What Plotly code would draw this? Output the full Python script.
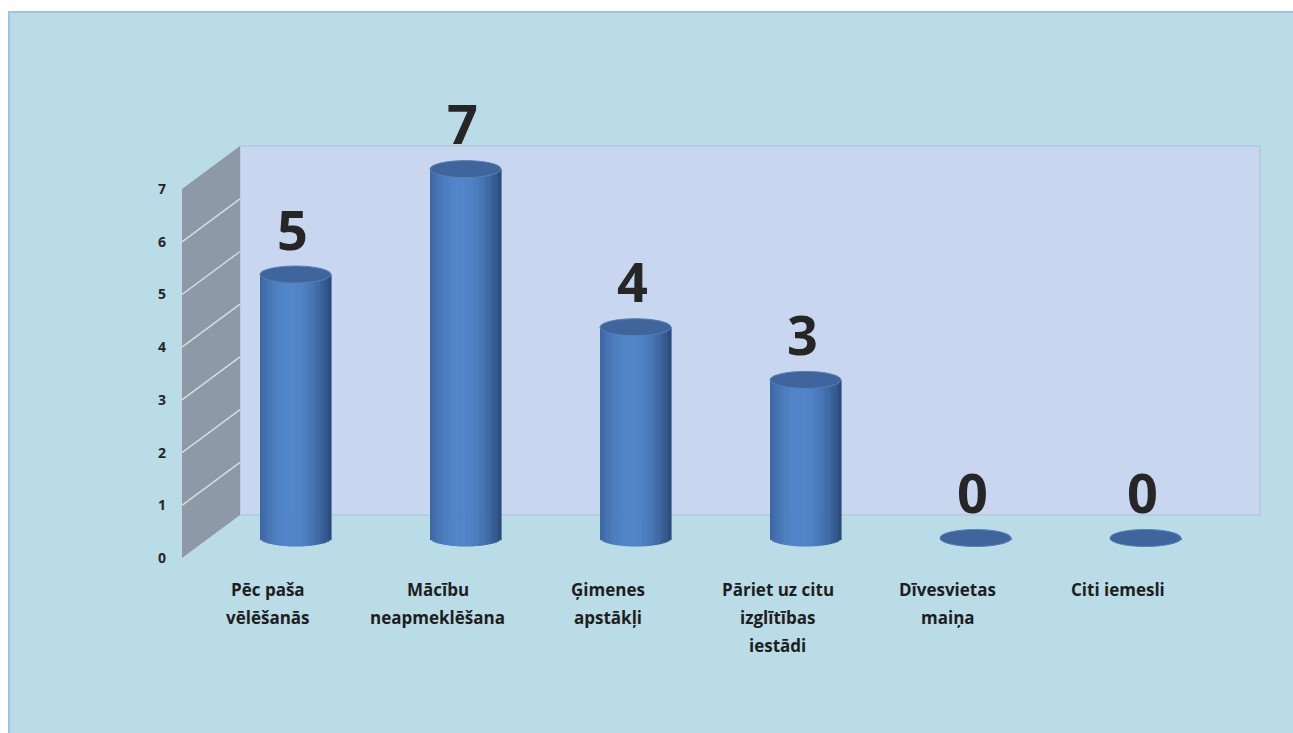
import math
import plotly.graph_objects as go

# ---- data -------------------------------------------------------------
categories = [
    ["Pēc paša", "vēlēšanās"],
    ["Mācību", "neapmeklēšana"],
    ["Ģimenes", "apstākļi"],
    ["Pāriet uz citu", "izglītības", "iestādi"],
    ["Dīvesvietas", "maiņa"],
    ["Citi iemesli"],
]
values = [5, 7, 4, 3, 0, 0]
y_ticks = [0, 1, 2, 3, 4, 5, 6, 7]

# ---- geometry of the pseudo-3D scene (pixels) ------------------------
W, H = 1293, 733
PX_X = 170.0          # pixels per category step
CAT0_PX = 295.5       # pixel x of the first category
PX_Y = 52.7           # pixels per value unit
ZERO_PX = 538.0       # pixel y of value 0 on the cylinder plane
FRONT_DY = 20         # front plane offset (down) from cylinder plane
BACK_DY = -23         # back plane offset (up) from cylinder plane
WALL_FRONT_X, WALL_BACK_X, BACK_RIGHT_X = 182, 240, 1260
RX, RY = 35.5, 8.5    # cylinder ellipse radii
N_STRIPS = 30

x_lo = -CAT0_PX / PX_X
x_hi = x_lo + W / PX_X
y_hi = ZERO_PX / PX_Y
y_lo = y_hi - H / PX_Y
y_max = max(y_ticks)


def px(p):
    return p / W


def py(p):
    return 1 - p / H


def plane_y(v, dy):
    return ZERO_PX + dy - v * PX_Y


xs = list(range(len(values)))

fig = go.Figure()

# cylinder bodies: vertical shaded strips, bottom rounded into a half ellipse
dark = (40, 72, 120)
light = (82, 134, 202)
strip_w = 2 * RX / N_STRIPS
for k in range(N_STRIPS):
    u = -1 + (k + 0.5) * 2 / N_STRIPS
    t = max(0.0, math.cos(math.pi / 2 * (u + 0.15) / 1.15)) ** 0.8
    rgb = tuple(int(d + (l - d) * t) for d, l in zip(dark, light))
    drop = RY * math.sqrt(max(0.0, 1 - u * u)) / PX_Y
    fig.add_trace(go.Bar(
        x=xs,
        y=[v + drop for v in values],
        base=-drop,
        width=(strip_w + 0.6) / PX_X,
        offset=(-RX + k * strip_w) / PX_X,
        marker=dict(color="rgb(%d,%d,%d)" % rgb, line=dict(width=0)),
        showlegend=False,
        hoverinfo="skip",
    ))

shapes = []
# chart area
shapes.append(dict(type="rect", xref="paper", yref="paper",
                   x0=px(9), x1=px(W + 5), y0=py(H + 5), y1=py(12),
                   fillcolor="#B9DCE6", line=dict(color="#9DC3E6", width=2),
                   layer="below"))
# back wall
shapes.append(dict(type="rect", xref="paper", yref="paper",
                   x0=px(WALL_BACK_X), x1=px(BACK_RIGHT_X),
                   y0=py(plane_y(0, BACK_DY)), y1=py(plane_y(y_max, BACK_DY)),
                   fillcolor="#C8D7EF", line=dict(color="#B3C9DF", width=1.5),
                   layer="below"))
# side wall
side = "M %f,%f L %f,%f L %f,%f L %f,%f Z" % (
    px(WALL_FRONT_X), py(plane_y(0, FRONT_DY)),
    px(WALL_FRONT_X), py(plane_y(y_max, FRONT_DY)),
    px(WALL_BACK_X), py(plane_y(y_max, BACK_DY)),
    px(WALL_BACK_X), py(plane_y(0, BACK_DY)),
)
shapes.append(dict(type="path", xref="paper", yref="paper", path=side,
                   fillcolor="#8D99A6", line=dict(width=0), layer="below"))
# side wall gridlines
for v in y_ticks[1:-1]:
    shapes.append(dict(type="line", xref="paper", yref="paper",
                       x0=px(WALL_FRONT_X), y0=py(plane_y(v, FRONT_DY)),
                       x1=px(WALL_BACK_X), y1=py(plane_y(v, BACK_DY)),
                       line=dict(color="rgba(225,232,240,0.85)", width=1.5),
                       layer="below"))
# cylinder tops
for i, v in enumerate(values):
    shapes.append(dict(type="circle", xref="x", yref="y",
                       xsizemode="pixel", xanchor=i, x0=-RX, x1=RX,
                       ysizemode="pixel", yanchor=v, y0=-RY, y1=RY,
                       fillcolor="#3F659C", line=dict(color="#5580B8", width=1),
                       layer="above"))

annotations = []
# value labels
for i, v in enumerate(values):
    annotations.append(dict(x=i, y=v, xref="x", yref="y", text=str(v),
                            showarrow=False, xshift=-3, yshift=46,
                            yanchor="middle",
                            font=dict(family="Open Sans", size=54,
                                      weight="bold", color="#262626")))
# category labels, one annotation per line
for i, lines in enumerate(categories):
    for j, line in enumerate(lines):
        annotations.append(dict(x=i, y=0, xref="x", yref="y", text=line,
                                showarrow=False, xshift=-28,
                                yshift=-(51 + 28 * j), yanchor="middle",
                                font=dict(family="Open Sans", size=17,
                                          weight="bold", color="#1E1E1E")))

fig.update_layout(
    width=W, height=H,
    margin=dict(l=0, r=0, t=0, b=0),
    paper_bgcolor="white",
    plot_bgcolor="rgba(0,0,0,0)",
    barmode="overlay",
    showlegend=False,
    shapes=shapes,
    annotations=annotations,
    xaxis=dict(range=[x_lo, x_hi], visible=False, fixedrange=True),
    yaxis=dict(range=[y_lo, y_hi], anchor="free", position=px(166),
               tickvals=y_ticks, ticktext=[str(t) for t in y_ticks],
               ticklabelshift=FRONT_DY, showgrid=False, zeroline=False,
               showline=False, ticks="",
               tickfont=dict(family="Open Sans", size=14, weight="bold",
                             color="#262626"),
               fixedrange=True),
)

fig.write_html("out.html")
